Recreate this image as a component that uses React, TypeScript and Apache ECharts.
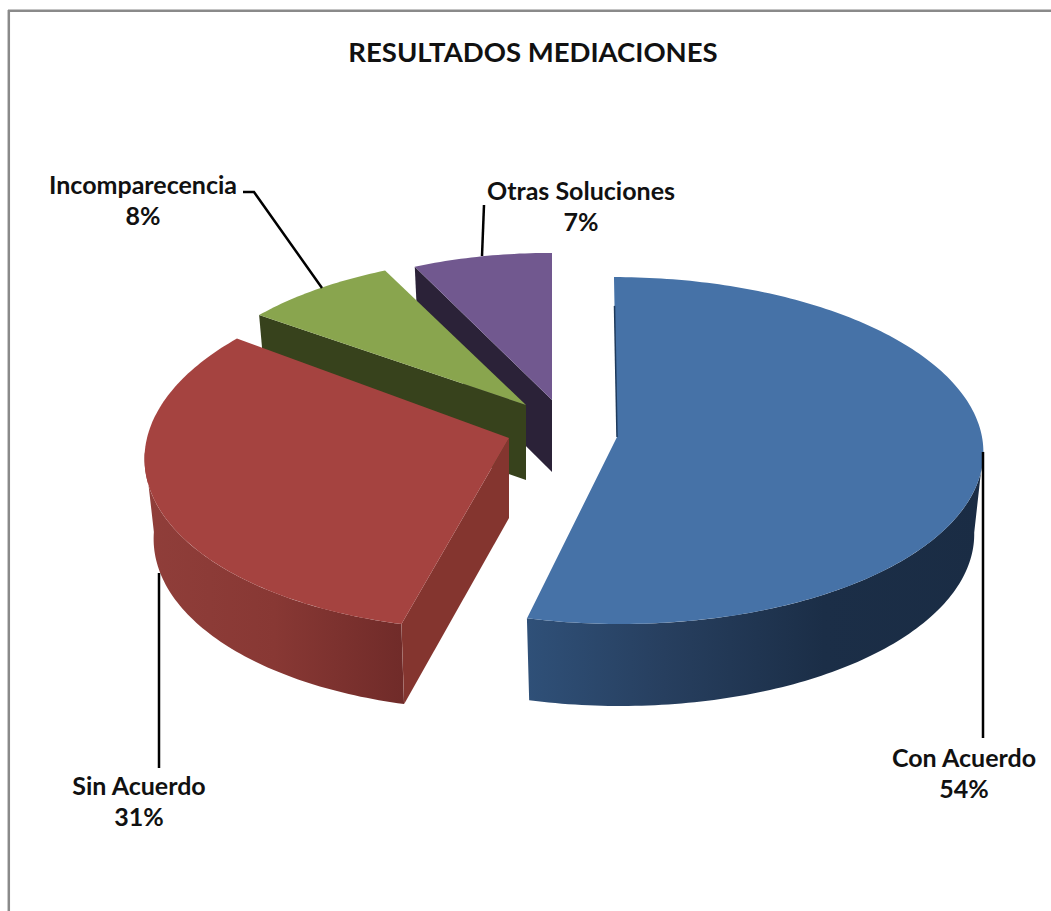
import React, { useEffect, useRef } from "react";
import * as echarts from "echarts";

const TITLE = "RESULTADOS MEDIACIONES";
const categories = ["Con Acuerdo", "Sin Acuerdo", "Incomparecencia", "Otras Soluciones"];
const shares = [53.8, 31.2, 7.8, 7.2];

// Drawing layout of the exploded 3D pie (not data)
const PERSPECTIVE = 0.078;
const sliceLayout = [
  { ax: 617, ay: 437, rx: 365, ry: 172.4, lean: 0.019, depth: 82, order: 30, sideFrom: 94.5, sideTo: 193.7 },
  { ax: 509, ay: 438, rx: 362, ry: 177, lean: -0.08, depth: 80, order: 20, sideFrom: 193.7, sideTo: 265.5 },
  { ax: 526, ay: 405, rx: 345, ry: 160, lean: 0, depth: 75, order: 10, sideFrom: 0, sideTo: 0 },
  { ax: 552, ay: 400, rx: 336, ry: 158.6, lean: 0, depth: 72, order: 0, sideFrom: 0, sideTo: 0 },
];
const topColors = ["#4672a7", "#a54340", "#89a54e", "#71588f"];
const faceColors = ["#1e3a5c", "#84352f", "#37421c", "#2b2238"];
const sideStops = [
  [[0, "#2f5078"], [0.3, "#273f5f"], [0.65, "#1b2e47"], [1, "#1a2c44"]],
  [[0, "#903e3a"], [0.5, "#883834"], [1, "#702b29"]],
  [[0, "#37421c"], [1, "#37421c"]],
  [[0, "#2b2238"], [1, "#2b2238"]],
];
const labelLayout = [
  { x: 964, y: 772, line: [[983, 452], [983, 738]] },
  { x: 139, y: 800, line: [[159, 573], [159, 768]] },
  { x: 143, y: 199, line: [[243, 192], [254, 192], [322, 288]] },
  { x: 581, y: 205, line: [[484, 205], [482, 256]] },
];

type L = (typeof sliceLayout)[number];

function project(s: L, deg: number, lower: boolean): number[] {
  const t = (deg * Math.PI) / 180;
  const u = Math.sin(t);
  const w = -Math.cos(t);
  const sc = 1 / (1 - PERSPECTIVE * w);
  const dy = s.ry * w * sc;
  const dx = s.rx * u * sc + s.lean * dy;
  return lower ? [s.ax + dx * 0.975, s.ay + dy + s.depth] : [s.ax + dx, s.ay + dy];
}

function arc(s: L, from: number, to: number, lower: boolean): number[][] {
  const pts: number[][] = [];
  const n = Math.max(2, Math.ceil(Math.abs(to - from)));
  for (let i = 0; i <= n; i++) pts.push(project(s, from + ((to - from) * i) / n, lower));
  return pts;
}

const renderSlice = (params: any, api: any) => {
  const i = params.dataIndex;
  const total = shares.reduce((a, b) => a + b, 0);
  const before = shares.slice(0, i).reduce((a, b) => a + b, 0);
  const start = (before / total) * 360;
  const end = start + (api.value(0) / total) * 360;
  const s = sliceLayout[i];
  const children: any[] = [];

  if (s.sideTo > s.sideFrom) {
    children.push({
      type: "polygon",
      z2: s.order,
      shape: { points: [...arc(s, s.sideFrom, s.sideTo, false), ...arc(s, s.sideTo, s.sideFrom, true)] },
      style: { fill: new echarts.graphic.LinearGradient(0, 0, 1, 0, sideStops[i].map(([offset, color]) => ({ offset, color }))) },
    });
  }
  const outer = project(s, start, false);
  if (i > 0) {
    const outerLow = project(s, start, true);
    children.push({
      type: "polygon",
      z2: s.order + 1,
      shape: { points: [[s.ax, s.ay], outer, outerLow, [s.ax, s.ay + s.depth]] },
      style: { fill: faceColors[i] },
    });
  }
  children.push({
    type: "polygon",
    z2: s.order + 2,
    shape: { points: [[s.ax, s.ay], ...arc(s, start, end, false)] },
    style: { fill: topColors[i] },
  });
  if (i === 0) {
    children.push({
      type: "line",
      z2: s.order + 3,
      shape: { x1: s.ax, y1: s.ay, x2: s.ax + (outer[0] - s.ax) * 0.82, y2: s.ay + (outer[1] - s.ay) * 0.82 },
      style: { stroke: faceColors[0], lineWidth: 1.5 },
    });
  }
  const lab = labelLayout[i];
  children.push({
    type: "polyline",
    z2: 100,
    shape: { points: lab.line },
    style: { stroke: "#000", lineWidth: 2.5, fill: "none" },
  });
  children.push({
    type: "text",
    z2: 101,
    x: lab.x,
    y: lab.y,
    style: {
      text: `${categories[i]}\n${Math.round(api.value(0))}%`,
      align: "center",
      verticalAlign: "middle",
      fontFamily: "Lato",
      fontWeight: "bold",
      fontSize: 25,
      lineHeight: 31,
      fill: "#111",
    },
  });
  return { type: "group", children };
};

export default function App() {
  const ref = useRef<HTMLDivElement>(null);
  useEffect(() => {
    document.body.style.margin = "0";
    const chart = echarts.init(ref.current!, undefined, { renderer: "svg" });
    chart.setOption({
      animation: false,
      backgroundColor: "#fff",
      title: {
        text: TITLE,
        left: 528,
        top: 46,
        textAlign: "center",
        textVerticalAlign: "middle",
        textStyle: { fontFamily: "Lato", fontWeight: "bold", fontSize: 27.5, color: "#111" },
      },
      graphic: [
        { type: "line", shape: { x1: 8.8, y1: 10, x2: 8.8, y2: 911 }, style: { stroke: "#8a8a8a", lineWidth: 2.5 } },
        { type: "line", shape: { x1: 8, y1: 10.7, x2: 1051, y2: 10.7 }, style: { stroke: "#8a8a8a", lineWidth: 2.5 } },
      ],
      series: [
        {
          type: "custom",
          coordinateSystem: "none",
          silent: true,
          clip: false,
          renderItem: renderSlice,
          data: shares.map((v, i) => ({ name: categories[i], value: [v] })),
        },
      ],
    });
    return () => chart.dispose();
  }, []);
  return <div ref={ref} style={{ width: 1051, height: 911 }} />;
}
